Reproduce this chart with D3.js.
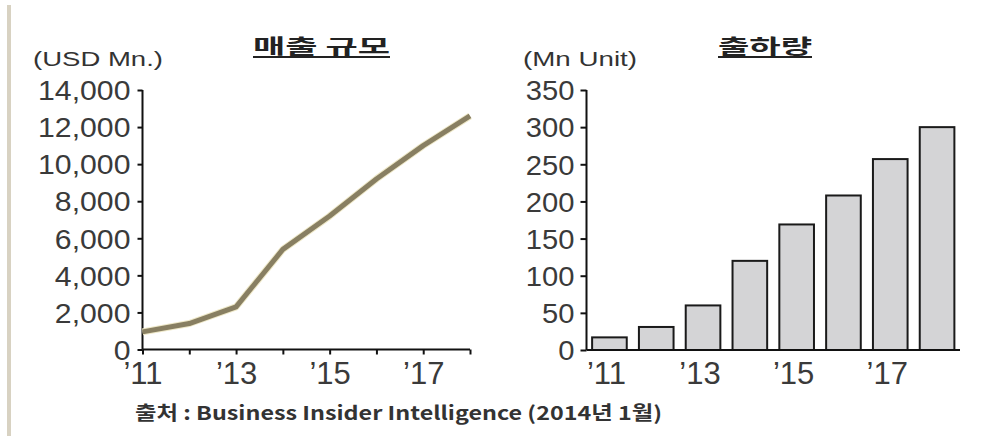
<!DOCTYPE html>
<html>
<head>
<meta charset="utf-8">
<script src="https://cdn.jsdelivr.net/npm/d3@7"></script>
<style>
  html, body { margin: 0; padding: 0; background: #fff; }
  svg { display: block; }
  text { font-family: "Liberation Sans", Arial, sans-serif; fill: #333; }
  .kr { font-family: "Noto Sans CJK KR", sans-serif; }
</style>
</head>
<body>
<svg id="chart" width="986" height="436"></svg>
<script>
// Years shared by both panels
const years = [2011, 2012, 2013, 2014, 2015, 2016, 2017, 2018];
const yearLabels = ["’11", "’13", "’15", "’17"];
const labeledYears = [2011, 2013, 2015, 2017];

// Revenue (USD Mn.)
const revenue = [950, 1400, 2300, 5400, 7200, 9200, 11000, 12600];
const revenueTicks = [0, 2000, 4000, 6000, 8000, 10000, 12000, 14000];

// Shipments (Mn Unit)
const shipments = [17, 31, 60, 120, 169, 208, 257, 300];
const shipmentTicks = [0, 50, 100, 150, 200, 250, 300, 350];

const svg = d3.select("#chart");

// thin beige rule on the left edge
svg.append("rect").attr("x", 7).attr("y", 5).attr("width", 4).attr("height", 431)
  .attr("fill", "#d8d2c2");

// helper: stretch tick labels horizontally
function stretchY(sel, sx, offset) {
  sel.selectAll(".tick text")
    .attr("x", null).attr("dy", "0.36em")
    .attr("text-anchor", "end")
    .attr("transform", `translate(${-offset},0) scale(${sx},1)`);
}

function titleText(cx, cy, str, width) {
  svg.append("text").attr("class", "kr")
    .attr("x", cx - width / 2).attr("y", cy)
    .attr("font-size", 20).attr("font-weight", 700)
    .attr("textLength", width).attr("lengthAdjust", "spacingAndGlyphs")
    .style("fill", "#222")
    .text(str);
  svg.append("line").attr("x1", cx - width / 2).attr("x2", cx + width / 2)
    .attr("y1", cy + 3).attr("y2", cy + 3)
    .attr("stroke", "#222").attr("stroke-width", 2);
}

function unitText(x, y, str, width) {
  svg.append("text").attr("x", x).attr("y", y)
    .attr("font-size", 20)
    .attr("textLength", width).attr("lengthAdjust", "spacingAndGlyphs")
    .text(str);
}

// ---------- Left panel: revenue line ----------
const L = { x0: 142.5, x1: 470, y0: 349.5, y1: 90 };
const xL = d3.scaleLinear().domain([2011, 2018]).range([L.x0, L.x1]);
const yL = d3.scaleLinear().domain([0, 14000]).range([L.y0, L.y1]);

const gL = svg.append("g");

const axL = gL.append("g").attr("transform", `translate(${L.x0},0)`)
  .call(d3.axisLeft(yL).tickValues(revenueTicks).tickSize(5).tickSizeOuter(0)
    .tickFormat(d3.format(",")));
stretchY(axL, 1.12, 12);
axL.selectAll("text").attr("font-size", 27).style("fill", "#3a3a3a");

const axLx = gL.append("g").attr("transform", `translate(0,${L.y0})`)
  .call(d3.axisBottom(xL).tickValues(years).tickSize(5).tickSizeOuter(0)
    .tickFormat(d => { const i = labeledYears.indexOf(d); return i >= 0 ? yearLabels[i] : ""; }));
axLx.selectAll(".tick text").attr("y", 34).attr("dy", 0)
  .attr("font-size", 31).style("fill", "#3a3a3a");

[axL, axLx].forEach(a => {
  a.select(".domain").attr("stroke", "#111").attr("stroke-width", 2);
  a.selectAll(".tick line").attr("stroke", "#111").attr("stroke-width", 2);
});
axL.select(".domain").attr("d", `M0,${L.y0}V${L.y1}`);
axLx.select(".domain").attr("d", `M${L.x0},0H${L.x1}`);

const line = d3.line().x((d, i) => xL(years[i])).y(d => yL(d));
gL.append("path").datum(revenue)
  .attr("d", line).attr("fill", "none")
  .attr("stroke", "#eee8c8").attr("stroke-width", 7).attr("stroke-linejoin", "round");
gL.append("path").datum(revenue)
  .attr("d", line).attr("fill", "none")
  .attr("stroke", "#887f62").attr("stroke-width", 5).attr("stroke-linejoin", "round");

titleText(321.5, 54, "매출 규모", 137);
unitText(33, 66, "(USD Mn.)", 130);

// ---------- Right panel: shipment bars ----------
const R = { x0: 586.5, x1: 960, y0: 350, y1: 90 };
const xR = d3.scaleBand().domain(years).range([R.x0, R.x1]).paddingInner(0.26).paddingOuter(0.12);
const yR = d3.scaleLinear().domain([0, 350]).range([R.y0, R.y1]);

const gR = svg.append("g");

gR.selectAll("rect.bar").data(shipments).join("rect")
  .attr("class", "bar")
  .attr("x", (d, i) => xR(years[i]))
  .attr("width", xR.bandwidth())
  .attr("y", d => yR(d))
  .attr("height", d => yR(0) - yR(d))
  .attr("fill", "#d4d4d6").attr("stroke", "#1a1a1a").attr("stroke-width", 2);

const axR = gR.append("g").attr("transform", `translate(${R.x0},0)`)
  .call(d3.axisLeft(yR).tickValues(shipmentTicks).tickSize(6).tickSizeOuter(0));
stretchY(axR, 1.08, 12);
axR.selectAll("text").attr("font-size", 27).style("fill", "#3a3a3a");
axR.select(".domain").attr("stroke", "#111").attr("stroke-width", 2)
  .attr("d", `M0,${R.y0}V${R.y1}`);
axR.selectAll(".tick line").attr("stroke", "#111").attr("stroke-width", 2);

const axRx = gR.append("g").attr("transform", `translate(0,${R.y0})`)
  .call(d3.axisBottom(xR).tickValues(labeledYears).tickSize(0).tickSizeOuter(0)
    .tickFormat(d => yearLabels[labeledYears.indexOf(d)]));
axRx.selectAll(".tick text").attr("y", 34).attr("dy", 0).attr("dx", -3)
  .attr("font-size", 31).style("fill", "#3a3a3a");
axRx.select(".domain").attr("stroke", "#111").attr("stroke-width", 2)
  .attr("d", `M${R.x0},0H${R.x1}`);

titleText(765, 54, "출하량", 94);
unitText(523, 66, "(Mn Unit)", 114);

// ---------- Source note ----------
svg.append("text").attr("class", "kr")
  .attr("x", 135).attr("y", 420)
  .attr("font-size", 19).attr("font-weight", 700)
  .attr("textLength", 527).attr("lengthAdjust", "spacingAndGlyphs")
  .style("fill", "#333")
  .text("출처 : Business Insider Intelligence (2014년 1월)");
</script>
</body>
</html>
